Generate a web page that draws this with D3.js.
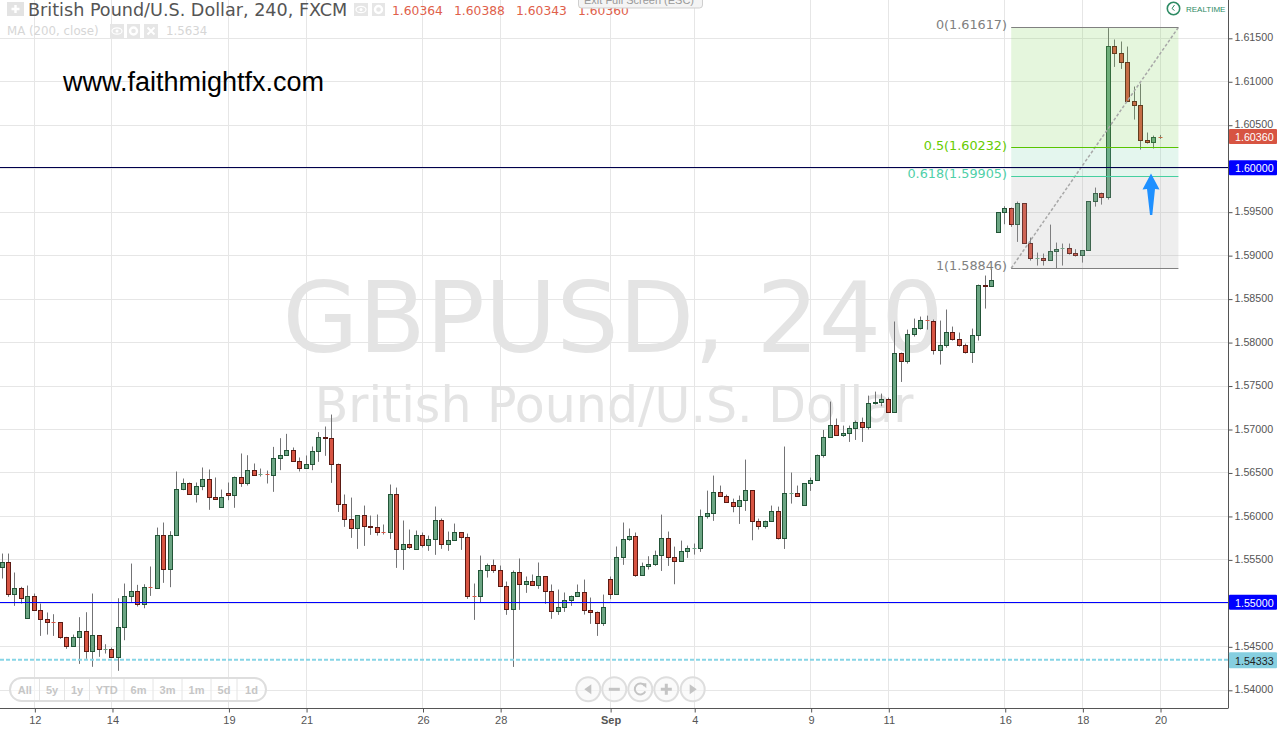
<!DOCTYPE html>
<html><head><meta charset="utf-8">
<script src="https://cdn.jsdelivr.net/npm/d3@7"></script>
<style>html,body{margin:0;padding:0;background:#fff;overflow:hidden}svg{display:block}</style>
</head><body><svg id="c" width="1280" height="729"></svg>
<script>
const opens=[1.55412,1.55470,1.55102,1.55171,1.54826,1.55079,1.54918,1.54814,1.54780,1.54780,1.54607,1.54503,1.54607,1.54676,1.54446,1.54630,1.54469,1.54469,1.54377,1.54722,
1.55079,1.55136,1.54987,1.55182,1.55171,1.55780,1.55389,1.55780,1.56309,1.56379,1.56252,1.56344,1.56425,1.56217,1.56102,1.56264,1.56240,1.56448,1.56379,1.56528,
1.56471,1.56482,1.56471,1.56666,1.56701,1.56758,1.56632,1.56551,1.56597,1.56747,1.56908,1.56896,1.56597,1.56137,1.55964,1.55861,1.56010,1.55884,1.55872,1.55815,
1.55815,1.56252,1.55619,1.55677,1.55619,1.55780,1.55665,1.55734,1.55953,1.55677,1.55723,1.55815,1.55757,1.55078,1.55078,1.55378,1.55435,1.55378,1.55194,1.54929,
1.55355,1.55217,1.55251,1.55205,1.55309,1.55136,1.54906,1.54952,1.55033,1.55078,1.55125,1.54917,1.54894,1.54768,1.55274,1.55101,1.55527,1.55734,1.55769,1.55320,
1.55423,1.55446,1.55550,1.55745,1.55527,1.55481,1.55596,1.55630,1.55630,1.55998,1.56033,1.56274,1.56228,1.56159,1.56113,1.56182,1.56297,1.55941,1.55883,1.55941,
1.56056,1.55745,1.56263,1.56263,1.56125,1.56378,1.56412,1.56700,1.56907,1.57045,1.56930,1.56953,1.57011,1.57080,1.57022,1.57298,1.57310,1.57344,1.57195,1.57873,
1.57781,1.58092,1.58161,1.58253,1.58242,1.57908,1.57965,1.58115,1.58034,1.57965,1.57885,1.58080,1.58656,1.58640,1.59265,1.59495,1.59541,1.59357,1.59599,1.59139,
1.58966,1.58966,1.58943,1.59047,1.59070,1.59081,1.59024,1.59001,1.59058,1.59622,1.59714,1.59668,1.61405,1.61324,1.61221,1.60772,1.60726,1.60324,1.60301,1.60364];
const closes=[1.55470,1.55102,1.55171,1.55056,1.55079,1.54914,1.54814,1.54780,1.54776,1.54603,1.54503,1.54607,1.54676,1.54446,1.54630,1.54469,1.54473,1.54377,1.54722,1.55079,
1.55136,1.54987,1.55182,1.55171,1.55780,1.55389,1.55780,1.56309,1.56379,1.56252,1.56344,1.56425,1.56217,1.56194,1.56217,1.56240,1.56448,1.56379,1.56528,1.56471,
1.56482,1.56471,1.56666,1.56701,1.56758,1.56632,1.56551,1.56597,1.56747,1.56908,1.56892,1.56597,1.56137,1.55964,1.55861,1.56010,1.55884,1.55872,1.55815,1.55811,
1.56252,1.55619,1.55677,1.55642,1.55780,1.55665,1.55734,1.55953,1.55677,1.55723,1.55815,1.55757,1.55078,1.55074,1.55378,1.55435,1.55378,1.55194,1.54929,1.55355,
1.55217,1.55251,1.55205,1.55309,1.55136,1.54906,1.54952,1.55033,1.55078,1.55125,1.54917,1.54894,1.54768,1.54952,1.55101,1.55527,1.55734,1.55769,1.55320,1.55423,
1.55446,1.55550,1.55745,1.55527,1.55481,1.55596,1.55630,1.55634,1.55998,1.56033,1.56274,1.56228,1.56159,1.56113,1.56182,1.56297,1.55941,1.55883,1.55941,1.56056,
1.55745,1.56263,1.56267,1.56225,1.56378,1.56412,1.56700,1.56907,1.57045,1.56930,1.56953,1.57011,1.57080,1.57022,1.57298,1.57310,1.57344,1.57195,1.57873,1.57781,
1.58092,1.58161,1.58253,1.58242,1.57908,1.57965,1.58115,1.58034,1.57965,1.57885,1.58080,1.58656,1.58644,1.58709,1.59495,1.59541,1.59357,1.59599,1.59139,1.58966,
1.58970,1.58943,1.59047,1.59070,1.59081,1.59024,1.59001,1.59058,1.59622,1.59714,1.59668,1.61405,1.61324,1.61221,1.60772,1.60726,1.60324,1.60301,1.60358,1.60360];
const highs=[1.55573,1.55573,1.55355,1.55190,1.55205,1.55113,1.54998,1.54895,1.54875,1.54780,1.54615,1.54641,1.54841,1.54898,1.55113,1.54630,1.54530,1.54492,1.55059,1.55228,
1.55458,1.55213,1.55220,1.55424,1.55872,1.55930,1.55830,1.56517,1.56436,1.56390,1.56390,1.56563,1.56540,1.56448,1.56309,1.56390,1.56459,1.56724,1.56704,1.56609,
1.56551,1.56528,1.56800,1.56900,1.56950,1.56793,1.56678,1.56701,1.56804,1.56970,1.57034,1.57172,1.56608,1.56252,1.56217,1.56010,1.56125,1.56010,1.56022,1.55907,
1.56367,1.56332,1.55953,1.55849,1.55838,1.55815,1.55780,1.56114,1.55976,1.55826,1.55918,1.55815,1.55803,1.55228,1.55550,1.55458,1.55504,1.55435,1.55251,1.55378,
1.55516,1.55309,1.55332,1.55470,1.55309,1.55217,1.55159,1.55125,1.55090,1.55217,1.55274,1.55067,1.54906,1.55101,1.55309,1.55654,1.55930,1.55861,1.55815,1.55469,
1.55542,1.55607,1.56021,1.55826,1.55653,1.55722,1.55665,1.55688,1.56079,1.56297,1.56470,1.56355,1.56251,1.56205,1.56240,1.56654,1.56297,1.55975,1.55952,1.56125,
1.56113,1.56804,1.56505,1.56355,1.56378,1.56447,1.56712,1.56995,1.57321,1.57126,1.57045,1.57045,1.57103,1.57137,1.57390,1.57436,1.57413,1.57367,1.58242,1.57885,
1.58149,1.58276,1.58299,1.58310,1.58265,1.58253,1.58380,1.58184,1.58115,1.57988,1.58161,1.58667,1.58771,1.58844,1.59495,1.59568,1.59553,1.59622,1.59599,1.59208,
1.59035,1.59024,1.59357,1.59150,1.59139,1.59139,1.59074,1.59058,1.59622,1.59783,1.59725,1.61617,1.61486,1.61463,1.61405,1.60945,1.60979,1.60416,1.60381,1.60388];
const lows=[1.55286,1.55075,1.54971,1.54998,1.54826,1.54914,1.54626,1.54641,1.54626,1.54592,1.54477,1.54503,1.54304,1.54362,1.54270,1.54385,1.54423,1.54377,1.54224,1.54576,
1.55017,1.54964,1.54944,1.55086,1.55171,1.55236,1.55186,1.55780,1.56302,1.56252,1.56160,1.56302,1.56076,1.56194,1.56102,1.56187,1.56099,1.56340,1.56356,1.56471,
1.56459,1.56379,1.56283,1.56532,1.56701,1.56632,1.56517,1.56551,1.56532,1.56628,1.56697,1.56386,1.56052,1.55880,1.55753,1.55627,1.55661,1.55788,1.55780,1.55792,
1.55742,1.55408,1.55385,1.55627,1.55619,1.55642,1.55604,1.55558,1.55627,1.55604,1.55723,1.55615,1.55052,1.54810,1.55009,1.55297,1.55351,1.55194,1.54868,1.54269,
1.54925,1.55121,1.55205,1.55167,1.54994,1.54822,1.54868,1.54902,1.54971,1.55078,1.54871,1.54764,1.54626,1.54741,1.55048,1.55101,1.55443,1.55719,1.55305,1.55320,
1.55389,1.55431,1.55373,1.55431,1.55220,1.55481,1.55523,1.55561,1.55592,1.55975,1.55949,1.56228,1.56159,1.56048,1.55914,1.56064,1.55726,1.55849,1.55860,1.55941,
1.55734,1.55626,1.56148,1.56225,1.56125,1.56294,1.56412,1.56677,1.56907,1.56930,1.56915,1.56857,1.56880,1.56857,1.56999,1.57287,1.57268,1.57195,1.57195,1.57547,
1.57758,1.58069,1.58149,1.58149,1.57862,1.57747,1.57942,1.58023,1.57954,1.57873,1.57766,1.58023,1.58391,1.58640,1.59265,1.59361,1.59331,1.59158,1.59139,1.58943,
1.58886,1.58886,1.58943,1.58851,1.58886,1.59012,1.58989,1.58920,1.59058,1.59564,1.59587,1.59645,1.61171,1.61148,1.60772,1.60565,1.60220,1.60289,1.60232,1.60343];

const xTickIndex=[5,17,35,47,65,77,94,107,125,137,155,167,179];
const xTickLabels=['12','14','19','21','26','28','Sep','4','9','11','16','18','20'];
const yTicks=[1.54,1.545,1.55,1.555,1.56,1.565,1.57,1.575,1.58,1.585,1.59,1.595,1.60,1.605,1.61,1.615];
const fibLevels=[0,0.5,0.618,1];
const fibPrices=[1.61617,1.60232,1.59905,1.58846];
const fibColors=['#808080','#59c400','#45d0a0','#808080'];
const fibTextColors=['#808080','#66cc00','#4fd0a8','#808080'];
const fibBands=['#7dd255','#78d2aa','#aaaaaa'];
const levelPrices=[1.60000,1.55000,1.54333];
const ranges=['All','5y','1y','YTD','6m','3m','1m','5d','1d'];
const rangeEdges=[10,39.5,64.5,89.5,124,153,182,211,237,266];
const ohlcHeader=['1.60364','1.60388','1.60343','1.60360'];

const svg=d3.select('#c');
const W=1228,H=708;
const x=d3.scaleLinear().domain([0,179]).range([2,1160]);
const y=d3.scaleLinear().domain([1.54,1.615]).range([690.3,38.3]);
const sans='"Liberation Sans",Arial,sans-serif', dv='"DejaVu Sans",sans-serif';
const snap=v=>Math.floor(v)+.5;

svg.append('defs').append('clipPath').attr('id','plot').append('rect').attr('width',W).attr('height',H);

// grid
const grid=svg.append('g').attr('stroke','#e6e6e6').attr('stroke-width',1);
grid.selectAll('.h').data(yTicks).join('line').attr('x1',0).attr('x2',W).attr('y1',d=>snap(y(d))).attr('y2',d=>snap(y(d)));
grid.selectAll('.v').data(xTickIndex).join('line').attr('y1',0).attr('y2',H).attr('x1',d=>snap(x(d))).attr('x2',d=>snap(x(d)));

// watermark
svg.append('text').attr('x',613).attr('y',352).attr('text-anchor','middle').attr('font-family',dv).attr('font-size',98).attr('fill','#e4e4e4').text('GBPUSD, 240');
svg.append('text').attr('x',614).attr('y',422).attr('text-anchor','middle').attr('font-family',dv).attr('font-size',49).attr('fill','#e4e4e4').text('British Pound/U.S. Dollar');

// candles
const plot=svg.append('g').attr('clip-path','url(#plot)');
const idx=d3.range(opens.length);
plot.selectAll('.w').data(idx).join('line').attr('stroke','#737375')
 .attr('x1',i=>snap(x(i))).attr('x2',i=>snap(x(i))).attr('y1',i=>y(highs[i])).attr('y2',i=>y(lows[i]));
plot.selectAll('.b').data(idx).join('rect').each(function(i){
  const up=closes[i]>=opens[i];
  const t=y(Math.max(opens[i],closes[i])), b=y(Math.min(opens[i],closes[i]));
  const st=snap(t), sb=snap(b), doji=(b-t)<1;
  d3.select(this).attr('x',snap(x(i))-2).attr('width',4)
   .attr('y',doji?Math.floor(t):st).attr('height',doji?1:Math.max(sb-st,1))
   .attr('fill',up?'#6ba583':'#d75442').attr('stroke',doji?'none':(up?'#225437':'#5b1a13')).attr('stroke-width',1);
});

// fibonacci
const fx0=x(156), fx1=x(181.85);
const fib=svg.append('g');
fibBands.forEach((c,k)=>fib.append('rect').attr('x',fx0).attr('width',fx1-fx0)
  .attr('y',y(fibPrices[k])-.8).attr('height',y(fibPrices[k+1])-y(fibPrices[k])).attr('fill',c).attr('opacity',.2));
fib.append('line').attr('x1',fx0).attr('x2',fx1).attr('y1',y(fibPrices[3])-.8).attr('y2',y(fibPrices[0])-.8)
  .attr('stroke','#a8a8a8').attr('stroke-width',1.5).attr('stroke-dasharray','3 2');
fibPrices.forEach((p,k)=>{
  fib.append('line').attr('x1',fx0).attr('x2',fx1).attr('y1',snap(y(p)-.8)).attr('y2',snap(y(p)-.8)).attr('stroke',fibColors[k]);
  fib.append('text').attr('x',1007).attr('y',y(p)+1).attr('text-anchor','end').attr('font-family',dv).attr('font-size',12.8)
    .attr('fill',fibTextColors[k]).text(`${fibLevels[k]}(${p.toFixed(5)})`);
});

// horizontal levels
const lev=svg.append('g');
lev.append('line').attr('x1',0).attr('x2',W).attr('y1',snap(y(levelPrices[0]))-1).attr('y2',snap(y(levelPrices[0]))-1).attr('stroke','#00004d').attr('stroke-width',1);
lev.append('line').attr('x1',0).attr('x2',W).attr('y1',snap(y(levelPrices[1]))-1).attr('y2',snap(y(levelPrices[1]))-1).attr('stroke','#0000ff').attr('stroke-width',1);
lev.append('line').attr('x1',0).attr('x2',W).attr('y1',y(levelPrices[2])-1.6).attr('y2',y(levelPrices[2])-1.6).attr('stroke','#86d5e6').attr('stroke-width',2).attr('stroke-dasharray','4 2');

// arrow
svg.append('path').attr('d','M1151 173.5L1159.5 189.5L1155 189L1152.3 215L1150 215L1147 189L1142.5 189.5Z').attr('fill','#1e90ff');

// axes
const axR=d3.axisRight(y).tickValues(yTicks).tickFormat(d3.format('.5f')).tickSize(4).tickPadding(2);
const gR=svg.append('g').attr('transform',`translate(${W+.5},0)`).call(axR);
gR.select('.domain').attr('d',`M0,0V${H}`).attr('stroke','#555');
gR.selectAll('line').attr('stroke','#555');
gR.selectAll('text').attr('font-family',sans).attr('font-size',10.7).attr('fill','#555').attr('dy','.25em');
const axB=d3.axisBottom(x).tickValues(xTickIndex).tickFormat((d,i)=>xTickLabels[i]).tickSize(4).tickPadding(4);
const gB=svg.append('g').attr('transform',`translate(.5,${H+.5})`).call(axB);
gB.select('.domain').attr('d',`M-1,0H${W}`).attr('stroke','#555');
gB.selectAll('line').attr('stroke','#555');
gB.selectAll('text').attr('font-family',sans).attr('font-size',11).attr('fill','#555').attr('font-weight',(d,i)=>xTickLabels[i]=='Sep'?'bold':'normal');

// price tags
function tag(p,txt,fill,col,h){
  const c=y(p);
  svg.append('rect').attr('x',W+1).attr('y',c-h/2-1).attr('width',48).attr('height',h).attr('fill',fill).attr('rx',1);
  svg.append('text').attr('x',1235).attr('y',c+3.6).attr('font-family',sans).attr('font-size',10.7).attr('fill',col).text(txt);
}
tag(closes[179],closes[179].toFixed(5),'#d75442','#fff',15);
tag(levelPrices[0],levelPrices[0].toFixed(5),'#0000ff','#fff',15);
tag(levelPrices[1],levelPrices[1].toFixed(5),'#0000ff','#fff',15);
tag(levelPrices[2],levelPrices[2].toFixed(5),'#86cfe0','#222',16);

// header
svg.append('rect').attr('x',7).attr('y',2).attr('width',17).attr('height',14).attr('fill','#e3e3e3');
svg.append('path').attr('d','M15.5 5v8M11.5 9h8').attr('stroke','#fff').attr('stroke-width',2.4);
svg.append('text').attr('x',28).attr('y',15.5).attr('font-family',dv).attr('font-size',17.6).attr('fill','#555').text('British Pound/U.S. Dollar, 240, FXCM');
function icon(xp,yp,w,h,kind){
  svg.append('rect').attr('x',xp).attr('y',yp).attr('width',w).attr('height',h).attr('fill','#e6e6e6');
  const cx=xp+w/2, cy=yp+h/2;
  if(kind=='eye'){svg.append('ellipse').attr('cx',cx).attr('cy',cy).attr('rx',5).attr('ry',3.2).attr('fill','none').attr('stroke','#fff').attr('stroke-width',1.2);
    svg.append('circle').attr('cx',cx).attr('cy',cy).attr('r',1.5).attr('fill','#fff');}
  if(kind=='gear'){svg.append('circle').attr('cx',cx).attr('cy',cy).attr('r',3.5).attr('fill','none').attr('stroke','#fff').attr('stroke-width',2.4);
    }
  if(kind=='x'){svg.append('path').attr('d',`M${cx-3.5} ${cy-3.5}L${cx+3.5} ${cy+3.5}M${cx+3.5} ${cy-3.5}L${cx-3.5} ${cy+3.5}`).attr('stroke','#fff').attr('stroke-width',1.8);}
}
icon(354,3,14,13,'eye');icon(372,3,13,13,'gear');
[392,454,516,578].forEach((xp,k)=>svg.append('text').attr('x',xp).attr('y',15).attr('font-family',dv).attr('font-size',12.3).attr('fill','#e0604a').text(ohlcHeader[k]));
svg.append('text').attr('x',7).attr('y',35).attr('font-family',dv).attr('font-size',11.8).attr('fill','#d6d6d6').text('MA (200, close)');
icon(110,24,14,14,'eye');icon(127,24,13,14,'gear');icon(144,24,14,14,'x');
svg.append('text').attr('x',166).attr('y',35).attr('font-family',dv).attr('font-size',11.8).attr('fill','#d6d6d6').text('1.5634');
svg.append('text').attr('x',63).attr('y',91).attr('font-family',sans).attr('font-size',27).attr('fill','#000').text('www.faithmightfx.com');

// exit tooltip
svg.append('rect').attr('x',578.5).attr('y',-12).attr('width',124).attr('height',20).attr('rx',3).attr('fill','#f4f4f4').attr('stroke','#cfcfcf');
svg.append('text').attr('x',584).attr('y',4).attr('font-family',sans).attr('font-size',11).attr('fill','#9a9a9a').text('Exit Full Screen (ESC)');

// realtime
svg.append('circle').attr('cx',1173.5).attr('cy',8.5).attr('r',6.2).attr('fill','none').attr('stroke','#2e8b64').attr('stroke-width',1.6);
svg.append('path').attr('d','M1174.5 5l-2.5 3.5 2.5 2').attr('fill','none').attr('stroke','#2e8b64').attr('stroke-width',1);
svg.append('text').attr('x',1186).attr('y',12).attr('font-family',sans).attr('font-size',8).attr('fill','#2e8b64').text('REALTIME');

// range selector
svg.append('rect').attr('x',10).attr('y',678).attr('width',256).attr('height',23).attr('rx',11.5).attr('fill','#fff').attr('fill-opacity',.55).attr('stroke','#dedede').attr('stroke-width',2);
ranges.forEach((r,k)=>{
  if(k>0) svg.append('line').attr('x1',rangeEdges[k]).attr('x2',rangeEdges[k]).attr('y1',679).attr('y2',700).attr('stroke','#e4e4e4');
  svg.append('text').attr('x',(rangeEdges[k]+rangeEdges[k+1])/2).attr('y',693.5).attr('text-anchor','middle').attr('font-family',sans).attr('font-weight','bold').attr('font-size',11).attr('fill','#c6c6c6').text(r);
});

// nav buttons
const nav=[588.3,614.3,640.3,666.3,692.7], ny=689.3, gl='#c4c4c4';
nav.forEach(cx=>svg.append('circle').attr('cx',cx).attr('cy',ny).attr('r',12).attr('fill','#f6f6f6').attr('fill-opacity',.6).attr('stroke','#dedede').attr('stroke-width',2));
svg.append('path').attr('d',`M${nav[0]-4} ${ny}l7 -5v10z`).attr('fill',gl);
svg.append('rect').attr('x',nav[1]-5.5).attr('y',ny-1.5).attr('width',11).attr('height',3).attr('fill',gl);
svg.append('path').attr('d',`M${nav[2]+4.5} ${ny-3.5}A5.5 5.5 0 1 0 ${nav[2]+5} ${ny+2}`).attr('fill','none').attr('stroke',gl).attr('stroke-width',2);
svg.append('path').attr('d',`M${nav[2]+1} ${ny-6}h5v5z`).attr('fill',gl);
svg.append('path').attr('d',`M${nav[3]-5.5} ${ny}h11M${nav[3]} ${ny-5.5}v11`).attr('stroke',gl).attr('stroke-width',3);
svg.append('path').attr('d',`M${nav[4]+4} ${ny}l-7 -5v10z`).attr('fill',gl);
</script></body></html>
